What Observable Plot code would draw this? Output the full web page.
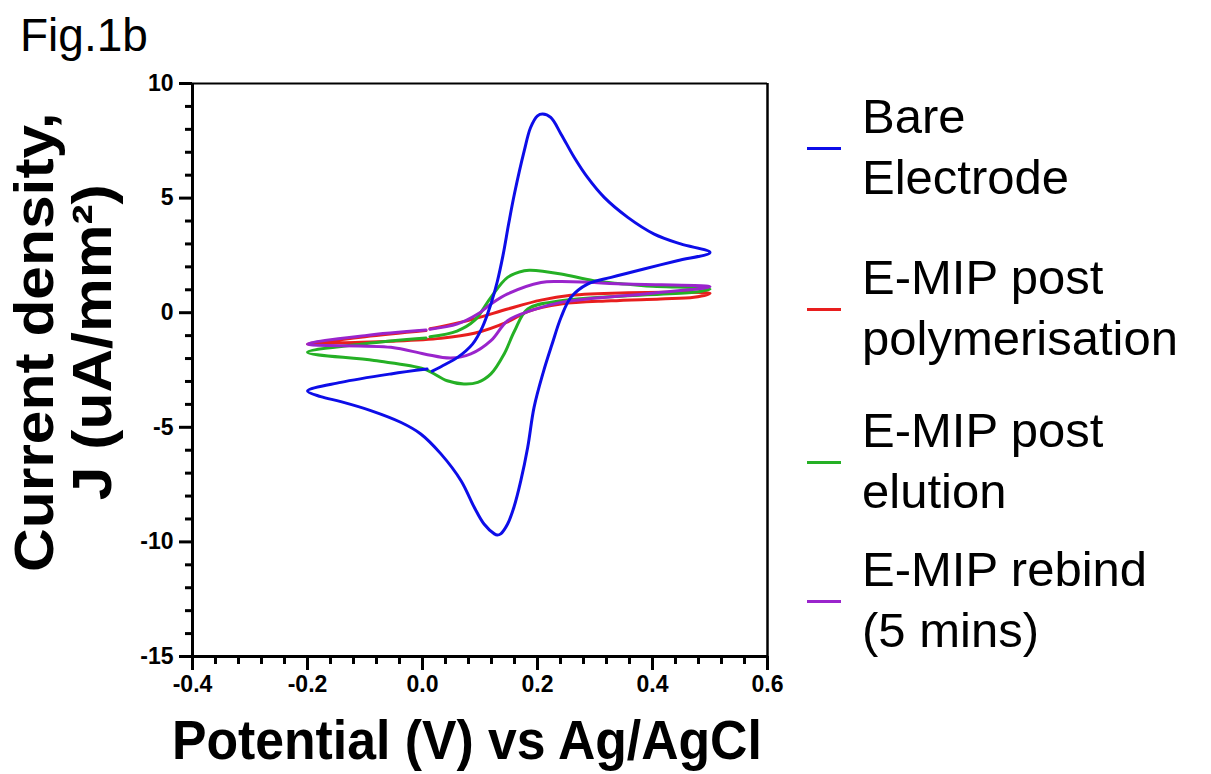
<!DOCTYPE html>
<html><head><meta charset="utf-8">
<script src="https://cdn.jsdelivr.net/npm/d3@7"></script>
<script src="https://cdn.jsdelivr.net/npm/@observablehq/plot@0.6"></script>
<style>
body{margin:0;background:#fff;}
#wrap{position:relative;width:1211px;height:774px;font-family:"Liberation Sans",Arial,sans-serif;}
.t{position:absolute;white-space:nowrap;color:#000;}
.sw{position:absolute;height:3px;width:34px;}
</style></head>
<body><div id="wrap"></div>
<script>
// ---- data ----
const seriesNames = ["Bare Electrode","E-MIP post polymerisation","E-MIP post elution","E-MIP rebind (5 mins)"];
const seriesColors = ["#0d0de8","#e81e1e","#25b025","#9a24cc"];
const bareV = [0.017,0.040,0.061,0.087,0.104,0.119,0.130,0.140,0.150,0.160,0.177,0.188,0.200,0.209,0.223,0.241,0.264,0.287,0.316,0.357,0.403,0.449,0.500,0.443,0.385,0.328,0.287,0.258,0.241,0.225,0.210,0.194,0.183,0.171,0.159,0.148,0.136,0.130,0.125,0.107,0.090,0.067,0.032,-0.003,-0.038,-0.090,-0.142,-0.177,-0.200,-0.142,-0.055,0.008];
const bareJ = [-2.55,-2.25,-1.95,-1.37,-0.64,0.38,1.35,2.5,3.9,5.2,7.07,8.08,8.59,8.67,8.52,7.79,6.77,5.90,5.03,4.16,3.43,3.00,2.63,2.27,1.91,1.54,1.25,0.67,-0.2,-1.4,-2.6,-4.13,-5.87,-7.33,-8.49,-9.22,-9.65,-9.70,-9.65,-9.22,-8.49,-7.33,-6.16,-5.29,-4.78,-4.27,-3.88,-3.66,-3.42,-3.04,-2.67,-2.46];
const polyV = [0.013,0.032,0.090,0.148,0.206,0.258,0.357,0.443,0.500,0.472,0.414,0.328,0.241,0.183,0.148,0.090,0.032,-0.055,-0.140,-0.200,-0.100,0.006];
const polyJ = [-0.70,-0.61,-0.27,0.16,0.55,0.76,0.87,0.89,0.85,0.67,0.60,0.52,0.38,0.05,-0.40,-0.90,-1.12,-1.25,-1.31,-1.37,-1.05,-0.78];
const elutV = [0.013,0.060,0.090,0.119,0.148,0.177,0.188,0.241,0.298,0.385,0.500,0.472,0.357,0.241,0.183,0.160,0.142,0.119,0.096,0.072,0.043,0.003,-0.084,-0.200,-0.100,0.006];
const elutJ = [-1.05,-0.80,-0.35,0.67,1.54,1.83,1.85,1.69,1.40,1.18,1.03,0.89,0.74,0.52,0.16,-0.8,-1.80,-2.67,-3.04,-3.11,-2.97,-2.46,-2.09,-1.73,-1.35,-1.10];
const rebV = [0.013,0.061,0.096,0.119,0.148,0.206,0.241,0.357,0.500,0.400,0.241,0.188,0.148,0.119,0.084,0.049,0.003,-0.055,-0.200,-0.100,0.006];
const rebJ = [-0.72,-0.49,-0.06,0.38,0.82,1.32,1.36,1.25,1.13,0.85,0.45,0.09,-0.35,-1.22,-1.80,-1.98,-1.80,-1.51,-1.37,-1.0,-0.76];
const xMajor = [-0.4,-0.2,0.0,0.2,0.4,0.6];
const yMajor = [10,5,0,-5,-10,-15];

const pack = (name, V, J) => V.map((v,i)=>({series:name, v, j:J[i], i}));
const data = [
  ...pack(seriesNames[1], polyV, polyJ),
  ...pack(seriesNames[2], elutV, elutJ),
  ...pack(seriesNames[3], rebV, rebJ),
  ...pack(seriesNames[0], bareV, bareJ)
];
const xMinor = d3.range(0,26).map(k=>+(-0.4+k*0.04).toFixed(2)).filter(v=>!xMajor.some(m=>Math.abs(m-v)<1e-6));
const yMinor = d3.range(-15,11).filter(v=>!yMajor.includes(v));

const plot = Plot.plot({
  width:1211, height:774,
  marginLeft:192, marginRight:444, marginTop:83, marginBottom:118,
  x:{domain:[-0.4,0.6], label:null},
  y:{domain:[-15,10], label:null},
  color:{domain:seriesNames, range:seriesColors},
  style:{fontFamily:"'Liberation Sans',Arial,sans-serif", background:"white"},
  marks:[
    Plot.line(data,{x:"v",y:"j",z:"series",stroke:"series",strokeWidth:3,curve:"catmull-rom"}),
    Plot.axisX({ticks:xMinor, tickSize:8, tickFormat:()=>"", strokeWidth:3, label:null}),
    Plot.axisX({ticks:xMajor, tickSize:14, tickPadding:5, tickFormat:d=>d.toFixed(1), fontSize:23, fontWeight:"bold", strokeWidth:3, label:null}),
    Plot.axisY({ticks:yMinor, tickSize:7, tickFormat:()=>"", strokeWidth:3, label:null}),
    Plot.axisY({ticks:yMajor, tickSize:13, tickPadding:6, tickFormat:d=>String(d), fontSize:23, fontWeight:"bold", strokeWidth:3, label:null}),
    Plot.ruleY([10],{stroke:"black",strokeWidth:2}),
    Plot.ruleX([0.6],{stroke:"black",strokeWidth:2.5}),
    Plot.ruleX([-0.4],{stroke:"black",strokeWidth:3}),
    Plot.ruleY([-15],{stroke:"black",strokeWidth:3})
  ]
});
const wrap = document.getElementById("wrap");
wrap.appendChild(plot);

function addText(txt, x, y, size, weight, extra){
  const d = document.createElement("div");
  d.className="t"; d.textContent = txt;
  d.style.left = x+"px"; d.style.top = y+"px"; d.style.fontSize = size+"px"; d.style.fontWeight = weight;
  if (extra) Object.assign(d.style, extra);
  wrap.appendChild(d); return d;
}
addText("Fig.1b", 20, 8, 46, "normal");
addText("Potential (V) vs Ag/AgCl", 172, 708, 55, "bold", {transform:"scaleX(0.94)", transformOrigin:"left top"});
const yt = document.createElement("div");
yt.className="t";
yt.style.cssText = "position:absolute;left:0;top:0;font-size:55px;font-weight:bold;line-height:58px;text-align:center;transform-origin:0 0;";
yt.innerHTML = "Current density,<br>J (uA/mm²)";
wrap.appendChild(yt);
const w = yt.offsetWidth * 1.1;
yt.style.transform = `translate(5px, ${342 + w/2}px) rotate(-90deg) scaleX(1.1)`;

const legY = [148, 309, 462, 601];
const legLines = [["Bare","Electrode"],["E-MIP post","polymerisation"],["E-MIP post","elution"],["E-MIP rebind","(5 mins)"]];
legY.forEach((y,k)=>{
  const s = document.createElement("div"); s.className="sw";
  s.style.left="807px"; s.style.top=(y-1.5)+"px"; s.style.background=seriesColors[k];
  wrap.appendChild(s);
  const d = addText("", 862, y-62, 49, "normal", {lineHeight:"61px"});
  d.innerHTML = legLines[k].join("<br>");
});
</script></body></html>
